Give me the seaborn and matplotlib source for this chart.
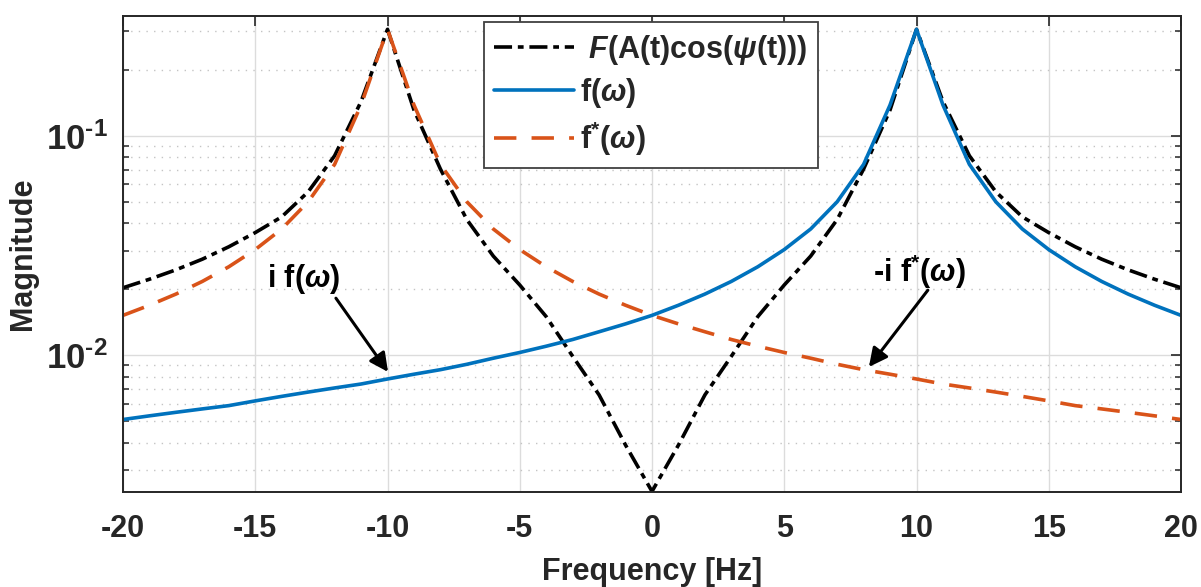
import numpy as np
import pandas as pd
import seaborn as sns
import matplotlib
matplotlib.use("Agg")
import matplotlib.pyplot as plt
from matplotlib.ticker import LogLocator, NullFormatter, FixedLocator
from matplotlib.lines import Line2D

# Frequency axis (Hz)
freq = list(range(-20, 21))

# |F(A(t)cos(psi(t)))|
mag_total = [0.0203, 0.0222, 0.0245, 0.0274, 0.0312, 0.0362, 0.0427, 0.0555, 0.081, 0.143,
             0.305, 0.131, 0.0705, 0.0415, 0.0283, 0.0209, 0.0150, 0.0099, 0.0066, 0.0039,
             0.0024,
             0.0039, 0.0066, 0.0099, 0.0150, 0.0209, 0.0283, 0.0415, 0.0705, 0.131, 0.305,
             0.143, 0.081, 0.0555, 0.0427, 0.0362, 0.0312, 0.0274, 0.0245, 0.0222, 0.0203]

# |f(omega)|
mag_f = [0.0051, 0.0053, 0.0055, 0.0057, 0.0059, 0.0062, 0.0065, 0.0068, 0.0071, 0.0074,
         0.0078, 0.0082, 0.0086, 0.0091, 0.0097, 0.0103, 0.0110, 0.0118, 0.0128, 0.0139,
         0.0152, 0.0169, 0.0190, 0.0217, 0.0253, 0.0303, 0.0376, 0.050, 0.074, 0.138,
         0.305, 0.138, 0.074, 0.050, 0.0376, 0.0303, 0.0253, 0.0217, 0.0190, 0.0169, 0.0152]

# |f*(omega)|
mag_fconj = [0.0152, 0.0169, 0.0190, 0.0217, 0.0253, 0.0303, 0.0376, 0.050, 0.074, 0.138,
             0.305, 0.138, 0.074, 0.050, 0.0376, 0.0303, 0.0253, 0.0217, 0.0190, 0.0169,
             0.0152, 0.0139, 0.0128, 0.0118, 0.0110, 0.0103, 0.0097, 0.0091, 0.0086, 0.0082,
             0.0078, 0.0074, 0.0071, 0.0068, 0.0065, 0.0062, 0.0059, 0.0057, 0.0055, 0.0053, 0.0051]

x_ticks = [-20, -15, -10, -5, 0, 5, 10, 15, 20]
y_ticks = [1e-2, 1e-1]
y_tick_labels = [r"$\mathbf{10^{\text{-}2}}$", r"$\mathbf{10^{\text{-}1}}$"]

label_total = r" $\mathit{F}$(A(t)cos($\psi$(t)))"
label_f = r"f($\omega$)"
label_fconj = r"f$^{*}$($\omega$)"

sns.set_theme(style="white")
plt.rcParams["font.family"] = ["Liberation Sans", "DejaVu Sans"]
plt.rcParams["font.weight"] = "bold"
plt.rcParams["mathtext.fontset"] = "custom"
plt.rcParams["mathtext.rm"] = "Liberation Sans:bold"
plt.rcParams["mathtext.bf"] = "Liberation Sans:bold"
plt.rcParams["mathtext.it"] = "Liberation Sans:italic:bold"
plt.rcParams["mathtext.sf"] = "Liberation Sans:bold"
plt.rcParams["axes.unicode_minus"] = False

TXT = "#262626"
BLUE = "#0072BD"
ORANGE = "#D95319"
FS = 22

fig = plt.figure(figsize=(12.01, 5.87), dpi=100)
ax = fig.add_axes([123 / 1201, 1 - 492 / 587, 1058 / 1201, 476 / 587])
ax.set_yscale("log")

df = pd.DataFrame({"freq": freq, "total": mag_total, "f": mag_f, "fconj": mag_fconj})

ls_total = (0, (5, 1.6, 1.6, 1.6))
ls_conj = (0, (6.2, 4.2))

sns.lineplot(data=df, x="freq", y="total", ax=ax, color="black", lw=2.6,
             linestyle=ls_total, label=label_total, legend=False)
sns.lineplot(data=df, x="freq", y="f", ax=ax, color=BLUE, lw=2.6,
             linestyle="-", label=label_f, legend=False)
sns.lineplot(data=df, x="freq", y="fconj", ax=ax, color=ORANGE, lw=2.6,
             linestyle=ls_conj, label=label_fconj, legend=False)

ax.set_xlim(-20, 20)
ax.set_ylim(0.002385, 0.3508)

ax.xaxis.set_major_locator(FixedLocator(x_ticks))
ax.set_xticklabels([str(v) for v in x_ticks])
ax.yaxis.set_major_locator(FixedLocator(y_ticks))
ax.set_yticklabels(y_tick_labels)
ax.yaxis.set_minor_locator(LogLocator(base=10, subs=np.arange(2, 10), numticks=20))
ax.yaxis.set_minor_formatter(NullFormatter())

for s in ax.spines.values():
    s.set_color(TXT)
    s.set_linewidth(1.4)
    s.set_visible(True)

ax.tick_params(axis="both", which="major", direction="in", top=True, right=True,
               length=7.5, width=1.2, color=TXT, labelsize=FS, labelcolor=TXT)
ax.tick_params(axis="x", which="major", pad=16)
ax.tick_params(axis="y", which="major", pad=11, labelsize=25)
ax.tick_params(axis="y", which="minor", direction="in", left=True, right=True,
               length=4.5, width=1.1, color=TXT)
for lbl in ax.get_xticklabels() + ax.get_yticklabels():
    lbl.set_fontweight("bold")

ax.grid(which="major", axis="both", color="#dcdcdc", lw=1.0, linestyle="-")
ax.grid(which="minor", axis="y", color="#c4c4c4", lw=1.0, linestyle=(0, (1, 4.5)))
ax.set_axisbelow(True)

ax.set_xlabel("Frequency [Hz]", fontsize=FS, fontweight="bold", color=TXT)
ax.set_ylabel("Magnitude", fontsize=FS, fontweight="bold", color=TXT)
ax.xaxis.set_label_coords(0.5, -0.137)
ax.yaxis.set_label_coords(-0.080, 0.5)

handles = [
    Line2D([], [], color="black", lw=2.6, linestyle=ls_total),
    Line2D([], [], color=BLUE, lw=2.6, linestyle="-"),
    Line2D([], [], color=ORANGE, lw=2.6, linestyle=ls_conj),
]
leg = ax.legend(handles, [label_total, label_f, label_fconj], loc="upper left",
                bbox_to_anchor=(0.341, 0.987), borderaxespad=0, fontsize=FS,
                frameon=True, fancybox=False, framealpha=1, edgecolor="#404040",
                handlelength=2.6, handletextpad=0.2, labelspacing=0.3,
                borderpad=0.35)
leg.get_frame().set_linewidth(1.3)
for t in leg.get_texts():
    t.set_fontweight("bold")

# annotations with arrows
arrow_kw = dict(arrowstyle="-|>", color="black", lw=2.2, mutation_scale=28,
                shrinkA=0, shrinkB=0)
ax.annotate("", xy=(-9.98, 0.0084), xytext=(-11.95, 0.0182), arrowprops=arrow_kw)
ax.annotate("", xy=(8.2, 0.00885), xytext=(10.43, 0.0198), arrowprops=arrow_kw)
ax.text(-14.56, 0.0205, r"i f($\omega$)", fontsize=FS, fontweight="bold",
        color="black", ha="left", va="baseline")
ax.text(8.36, 0.0215, r"-i f$^{*}$($\omega$)", fontsize=FS, fontweight="bold",
        color="black", ha="left", va="baseline")

fig.savefig("out.png", dpi=100)
